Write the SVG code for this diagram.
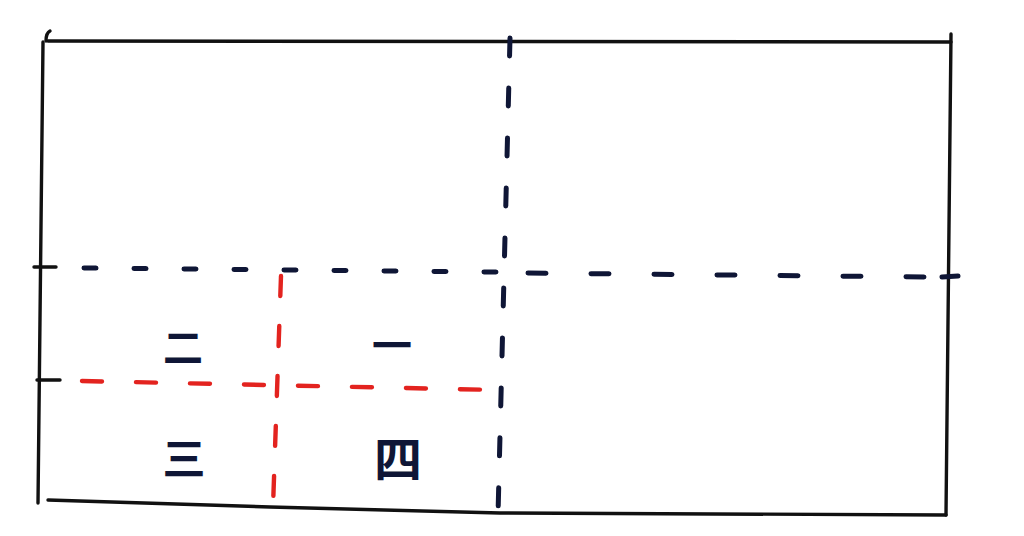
<svg xmlns="http://www.w3.org/2000/svg" width="1024" height="536" viewBox="0 0 1024 536">
<style>
.frame{stroke:#111;stroke-width:3.4;fill:none;stroke-linecap:round}
.navy{stroke:#0f1636;stroke-width:5;fill:none;stroke-linecap:round}
.red{stroke:#e3231f;stroke-width:4.4;fill:none;stroke-linecap:round}
.lbl{font-family:"Noto Sans CJK SC","Noto Sans CJK JP",sans-serif;font-weight:bold;fill:#0f1636;text-anchor:middle;dominant-baseline:central}
</style>
<rect width="1024" height="536" fill="#fff"/>
<g id="frame">
<path class="frame" d="M48,41 L951,42"/>
<path class="frame" d="M43,42 L38,503"/>
<path class="frame" d="M951,34 L946,515"/>
<path class="frame" d="M48,500 L270,507 L500,513 L946,515"/>
<path class="frame" d="M50,31 Q46,33 46,41"/>
<path class="frame" d="M34,267 L56,267"/>
<path class="frame" d="M37,380 L60,380"/>
</g>
<g id="connectors">
<path class="navy" d="M510,38 L498,515" stroke-dasharray="18,32"/>
<path class="navy" d="M84,268 L496,272" stroke-dasharray="12,38"/>
<path class="navy" d="M528,273 L930,277" stroke-dasharray="18,45"/>
<path class="navy" d="M942,277 L958,276"/>
<path class="red" d="M281,276 L273,507" stroke-dasharray="20,30"/>
<path class="red" d="M82,381 L497,390" stroke-dasharray="20,34"/>
</g>
<g id="n2"><text class="lbl" x="183" y="345" font-size="40">二</text></g>
<g id="n1"><text class="lbl" x="392" y="343" font-size="40">一</text></g>
<g id="n3"><text class="lbl" x="184" y="456" font-size="43">三</text></g>
<g id="n4"><text class="lbl" x="398" y="456" font-size="48">四</text></g>
</svg>
